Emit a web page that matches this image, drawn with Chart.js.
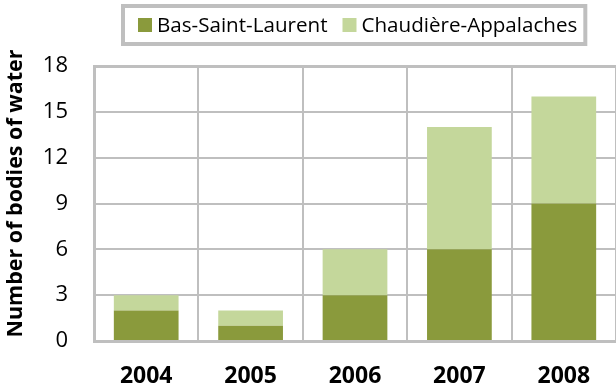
<!DOCTYPE html>
<html>
<head>
<meta charset="utf-8">
<script src="https://cdn.jsdelivr.net/npm/chart.js@4"></script>
<style>
  html, body { margin: 0; padding: 0; background: #fff; }
  #wrap { width: 616px; height: 389px; }
</style>
</head>
<body>
<div id="wrap"><canvas id="chart" width="616" height="389"></canvas></div>
<script>
const years = ['2004', '2005', '2006', '2007', '2008'];
const basSaintLaurent = [2, 1, 3, 6, 9];
const chaudiereAppalaches = [1, 1, 3, 8, 7];
const seriesNames = ['Bas-Saint-Laurent', 'Chaudière-Appalaches'];
const yTicks = [0, 3, 6, 9, 12, 15, 18];
const yTitle = 'Number of bodies of water';

const DARK = '#8a9a3c';
const LIGHT = '#c4d79b';
const GRID = '#bfbfbf';
const FONT = '"Open Sans", "DejaVu Sans", sans-serif';

// boxed legend, centred over the plot area
const boxLegend = {
  id: 'boxLegend',
  afterDraw(chart) {
    const ctx = chart.ctx;
    const area = chart.chartArea;
    const sets = chart.data.datasets;
    ctx.save();
    ctx.font = '20.6px ' + FONT;
    const sq = 14, gapText = 5, gapItem = 15, padL = 15, padR = 8;
    let w = padL + padR;
    sets.forEach((ds, i) => {
      w += sq + gapText + ctx.measureText(ds.label).width;
      if (i < sets.length - 1) w += gapItem;
    });
    const top = 6, h = 38;
    const left = Math.round((area.left + area.right) / 2 - w / 2) - 1;
    ctx.strokeStyle = GRID;
    ctx.lineWidth = 4;
    ctx.strokeRect(left, top, w, h);
    let x = left + padL;
    const cy = 25;
    ctx.textBaseline = 'middle';
    sets.forEach(ds => {
      ctx.fillStyle = ds.backgroundColor;
      ctx.fillRect(x, cy - sq / 2, sq, sq);
      x += sq + gapText;
      ctx.fillStyle = '#000';
      ctx.fillText(ds.label, x, cy + 1);
      x += ctx.measureText(ds.label).width + gapItem;
    });
    ctx.restore();
  }
};

// rotated y-axis title, sitting a little above the plot's midline
const axisTitle = {
  id: 'axisTitle',
  afterDraw(chart) {
    const ctx = chart.ctx;
    const area = chart.chartArea;
    ctx.save();
    ctx.font = 'bold 21.5px ' + FONT;
    ctx.fillStyle = '#000';
    ctx.textAlign = 'center';
    ctx.textBaseline = 'middle';
    ctx.translate(16, (area.top + area.bottom) / 2 - 10);
    ctx.rotate(-Math.PI / 2);
    ctx.fillText(yTitle, 0, 0);
    ctx.restore();
  }
};

new Chart(document.getElementById('chart'), {
  type: 'bar',
  data: {
    labels: years,
    datasets: [
      { label: seriesNames[0], data: basSaintLaurent, backgroundColor: DARK },
      { label: seriesNames[1], data: chaudiereAppalaches, backgroundColor: LIGHT }
    ]
  },
  options: {
    responsive: false,
    animation: false,
    events: [],
    layout: { padding: { top: 66, right: -1, left: 0, bottom: 0 } },
    datasets: { bar: { categoryPercentage: 1, barPercentage: 0.62 } },
    plugins: { legend: { display: false }, tooltip: { enabled: false } },
    scales: {
      x: {
        stacked: true,
        grid: { color: GRID, lineWidth: 2, drawTicks: false, offset: true },
        border: { color: GRID, width: 3 },
        ticks: { color: '#000', padding: 22, font: { family: FONT, size: 23, weight: 'bold' } },
        afterFit(scale) { scale.height = 48; }
      },
      y: {
        stacked: true,
        min: 0,
        max: 18,
        afterBuildTicks(scale) { scale.ticks = yTicks.map(v => ({ value: v })); },
        grid: {
          color: GRID,
          drawTicks: false,
          lineWidth: c => (c.tick && c.tick.value === 18 ? 3 : 2)
        },
        border: { color: GRID, width: 3 },
        ticks: { color: '#000', padding: 26, font: { family: FONT, size: 22 } },
        afterFit(scale) { scale.width = 94; }
      }
    }
  },
  plugins: [boxLegend, axisTitle]
});
</script>
</body>
</html>
